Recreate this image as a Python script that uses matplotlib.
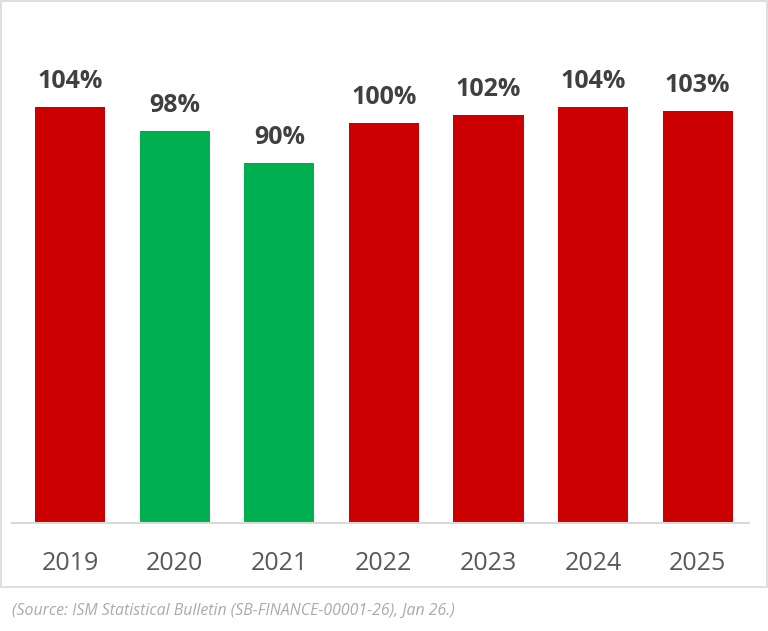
import matplotlib.pyplot as plt
from matplotlib.patches import Rectangle

plt.rcParams['font.family'] = ['Open Sans', 'DejaVu Sans']

years = ['2019', '2020', '2021', '2022', '2023', '2024', '2025']
values = [104, 98, 90, 100, 102, 104, 103]
labels = ['104%', '98%', '90%', '100%', '102%', '104%', '103%']
colors = ['#CC0000', '#00B050', '#00B050', '#CC0000', '#CC0000', '#CC0000', '#CC0000']

W, H = 768, 631
fig = plt.figure(figsize=(W / 100, H / 100), dpi=100)

# outer light frame around the chart area
fig.patches.append(Rectangle((0.5 / W, (H - 587) / H), (W - 1.5) / W, 587 / H - 0.5 / H,
                             transform=fig.transFigure, fill=False,
                             edgecolor='#d9d9d9', linewidth=1.2))

ax = fig.add_axes([12 / W, (H - 523) / H, (749 - 12) / W, (523 - 20) / H])
x = range(len(years))
bars = ax.bar(x, values, width=0.67, color=colors, edgecolor='none')

ax.set_xlim(-0.555, 6.49)
ax.set_ylim(0, (523 - 20) / 4)

for i, (v, lab) in enumerate(zip(values, labels)):
    ax.annotate(lab, (i, v), xytext=(0, 13.5), textcoords='offset points',
                ha='center', va='baseline', fontsize=18, fontweight='bold',
                color='#404040')

ax.set_xticks(list(x))
ax.set_xticklabels(years, fontsize=18, color='#595959')
ax.tick_params(axis='x', length=0, pad=20)
ax.set_yticks([])

for s in ['top', 'right', 'left']:
    ax.spines[s].set_visible(False)
ax.spines['bottom'].set_color('#d9d9d9')
ax.spines['bottom'].set_linewidth(1.5)

fig.text(12 / W, (H - 615) / H,
         '(Source: ISM Statistical Bulletin (SB-FINANCE-00001-26), Jan 26.)',
         fontsize=11.4, style='italic', color='#aaaaaa', va='baseline', ha='left')

fig.savefig('out.png', dpi=100)
